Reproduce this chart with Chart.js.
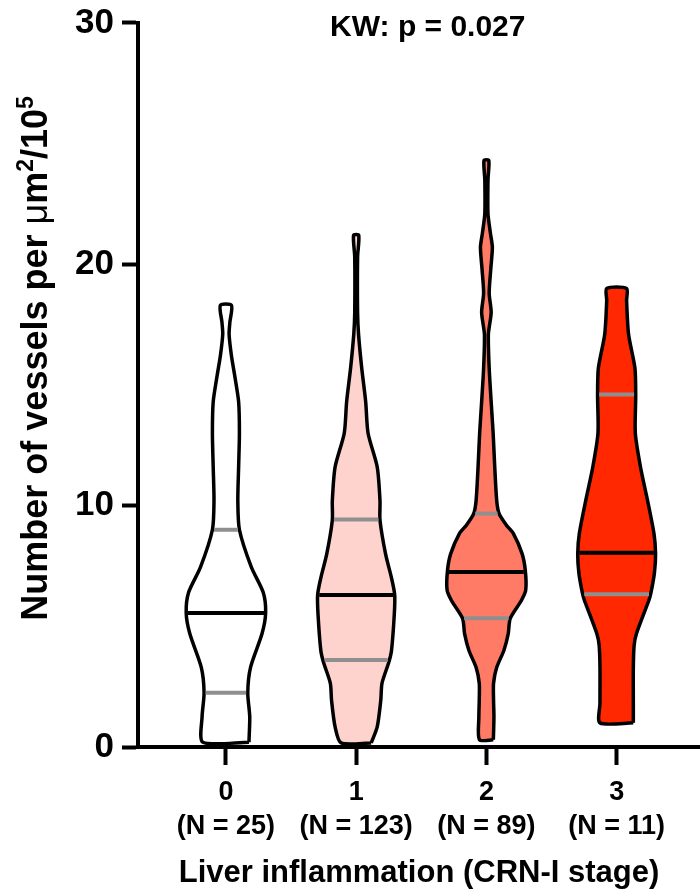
<!DOCTYPE html>
<html>
<head>
<meta charset="utf-8">
<script src="https://cdn.jsdelivr.net/npm/chart.js@4"></script>
<style>
  html, body { margin: 0; padding: 0; background: #fff; }
  #wrap { width: 700px; height: 889px; }
</style>
</head>
<body>
<div id="wrap"><canvas id="chart" width="700" height="889"></canvas></div>
<script>
// categories and labels
const stages = ['0', '1', '2', '3'];
const nLabels = ['(N = 25)', '(N = 123)', '(N = 89)', '(N = 11)'];
const yTicks = [0, 10, 20, 30];
const pText = 'KW: p = 0.027';

// violin outlines: y levels (bottom -> top) and relative density at each level
const levels0  = [0.2, 1.25, 2.25, 3.3, 4.7, 5.55, 6.4, 7.45, 9.0, 10.2, 11.6, 13.0, 14.3, 15.4, 16.2, 17.1, 17.6, 18.3];
const density0 = [0.58, 0.60, 0.55, 0.62, 0.91, 1.0, 0.94, 0.64, 0.34, 0.30, 0.32, 0.34, 0.32, 0.22, 0.14, 0.08, 0.10, 0.14];

const levels1  = [0.17, 0.83, 1.94, 2.64, 3.5, 4.0, 5.5, 6.3, 7.0, 8.0, 9.4, 10.2, 11.6, 13.0, 14.3, 15.7, 17.1, 18.0, 20.3, 21.2];
const density1 = [0.38, 0.53, 0.62, 0.65, 0.82, 0.89, 0.96, 0.97, 0.89, 0.74, 0.60, 0.60, 0.53, 0.30, 0.24, 0.14, 0.06, 0.036, 0.036, 0.065];

const levels2  = [0.3, 1.24, 1.94, 2.64, 3.3, 4.0, 4.7, 5.33, 6.07, 6.5, 7.3, 8.0, 8.84, 9.2, 9.67, 10.2, 11.6, 13.0, 14.3, 15.7, 17.1, 18.0, 18.8, 19.8, 20.7, 21.3, 22.1, 23.5, 24.3];
const density2 = [0.175, 0.19, 0.18, 0.18, 0.26, 0.44, 0.55, 0.60, 0.88, 0.99, 0.98, 0.90, 0.68, 0.50, 0.32, 0.26, 0.21, 0.17, 0.12, 0.07, 0.05, 0.12, 0.07, 0.11, 0.15, 0.10, 0.04, 0.04, 0.06];

const levels3  = [1.0, 1.8, 3.3, 4.2, 4.7, 6.07, 6.36, 7.2, 8.0, 8.84, 10.2, 11.6, 13.0, 14.6, 15.7, 17.1, 18.5, 19.0];
const density3 = [0.42, 0.42, 0.42, 0.44, 0.50, 0.81, 0.86, 0.95, 0.98, 0.94, 0.78, 0.60, 0.47, 0.48, 0.46, 0.30, 0.25, 0.25];

// summary lines
const medians = [5.55, 6.3, 7.25, 8.05];
const lowerQuartiles = [2.25, 3.6, 5.33, 6.33];
const upperQuartiles = [9.0, 9.42, 9.67, 14.6];

const fills = ['#ffffff', '#ffd3cd', '#ff7b66', '#ff2800'];
const allLevels = [levels0, levels1, levels2, levels3];
const allDensity = [density0, density1, density2, density3];

const halfWidth = 0.305; // category units for density 1
const fontFamily = '"Liberation Sans", Arial, sans-serif';

function widthAt(i, y) {
  let lv = allLevels[i], d = allDensity[i];
  for (let k = 0; k < lv.length - 1; k++) {
    if (y >= lv[k] && y <= lv[k + 1]) {
      let t = (y - lv[k]) / (lv[k + 1] - lv[k]);
      return d[k] + t * (d[k + 1] - d[k]);
    }
  }
  return d[d.length - 1];
}

function violinPoints(i) {
  let lv = allLevels[i], d = allDensity[i];
  let pts = [];
  lv.forEach((y, k) => pts.push({x: i + d[k] * halfWidth, y: y}));
  for (let k = lv.length - 1; k >= 0; k--) pts.push({x: i - d[k] * halfWidth, y: lv[k]});
  pts.push(pts[0]);
  return pts;
}

function hLine(i, y) {
  let w = widthAt(i, y) * halfWidth - 0.012;
  return [{x: i - w, y: y}, {x: i + w, y: y}];
}

let datasets = [];
stages.forEach((s, i) => {
  datasets.push({
    label: 'stage ' + s,
    data: violinPoints(i),
    showLine: true,
    fill: 'shape',
    backgroundColor: fills[i],
    borderColor: '#000',
    borderWidth: 3.5,
    borderJoinStyle: 'round',
    tension: 0.25,
    pointRadius: 0,
    order: 3
  });
  [lowerQuartiles[i], upperQuartiles[i]].forEach(q => {
    datasets.push({
      data: hLine(i, q),
      showLine: true,
      borderColor: '#8f8f8f',
      borderWidth: 4,
      pointRadius: 0,
      order: 2
    });
  });
  datasets.push({
    data: hLine(i, medians[i]),
    showLine: true,
    borderColor: '#000',
    borderWidth: 4,
    pointRadius: 0,
    order: 1
  });
});

// y title with real superscripts, plus the KW p-value
const textPlugin = {
  id: 'texts',
  afterDraw(chart) {
    let ctx = chart.ctx;
    ctx.save();
    ctx.fillStyle = '#000';
    ctx.font = 'bold 30px ' + fontFamily;
    ctx.textAlign = 'center';
    ctx.textBaseline = 'middle';
    ctx.fillText(pText, chart.scales.x.getPixelForValue(1.55), 28);

    let parts = [
      {t: 'Number of vessels per ', f: 'bold 36px ', dy: 0},
      {t: 'μ', f: '36px ', dy: 0},
      {t: 'm', f: 'bold 36px ', dy: 0},
      {t: '2', f: 'bold 23px ', dy: -14},
      {t: '/10', f: 'bold 36px ', dy: 0},
      {t: '5', f: 'bold 23px ', dy: -14}
    ];
    let total = 0;
    parts.forEach(p => { ctx.font = p.f + fontFamily; p.w = ctx.measureText(p.t).width; total += p.w; });
    ctx.translate(47, chart.scales.y.getPixelForValue(16.1));
    ctx.rotate(-Math.PI / 2);
    ctx.textAlign = 'left';
    ctx.textBaseline = 'alphabetic';
    let x = -total / 2;
    parts.forEach(p => { ctx.font = p.f + fontFamily; ctx.fillText(p.t, x, p.dy); x += p.w; });
    ctx.restore();
  }
};

new Chart(document.getElementById('chart'), {
  type: 'scatter',
  data: { datasets: datasets },
  options: {
    responsive: false,
    animation: false,
    layout: { padding: { top: 0, right: 0, left: 0, bottom: 0 } },
    plugins: { legend: { display: false }, tooltip: { enabled: false } },
    scales: {
      x: {
        type: 'linear',
        min: -0.675,
        max: 3.64,
        afterBuildTicks: (scale) => { scale.ticks = stages.map((s, i) => ({value: i})); },
        afterFit: (scale) => { scale.height = 142; },
        ticks: {
          callback: (v) => [stages[v], nLabels[v]],
          color: '#000',
          font: { family: fontFamily, weight: 'bold', size: 27, lineHeight: 1.26 },
          padding: 11,
          maxRotation: 0
        },
        grid: { display: true, drawOnChartArea: false, drawTicks: true, tickLength: 18, tickWidth: 4, tickColor: '#000' },
        border: { display: true, width: 4, color: '#000' },
        title: {
          display: true,
          text: 'Liver inflammation (CRN-I stage)',
          color: '#000',
          font: { family: fontFamily, weight: 'bold', size: 31 },
          padding: { top: 0, bottom: -3 }
        }
      },
      y: {
        min: 0,
        max: 30,
        afterBuildTicks: (scale) => { scale.ticks = yTicks.map(v => ({value: v})); },
        afterFit: (scale) => { scale.width = 138; },
        ticks: {
          color: '#000',
          font: { family: fontFamily, weight: 'bold', size: 35, lineHeight: 0.85 },
          padding: 8
        },
        grid: { display: true, drawOnChartArea: false, drawTicks: true, tickLength: 16, tickWidth: 4, tickColor: '#000' },
        border: { display: true, width: 4, color: '#000' },
        title: { display: false }
      }
    }
  },
  plugins: [textPlugin]
});
</script>
</body>
</html>
